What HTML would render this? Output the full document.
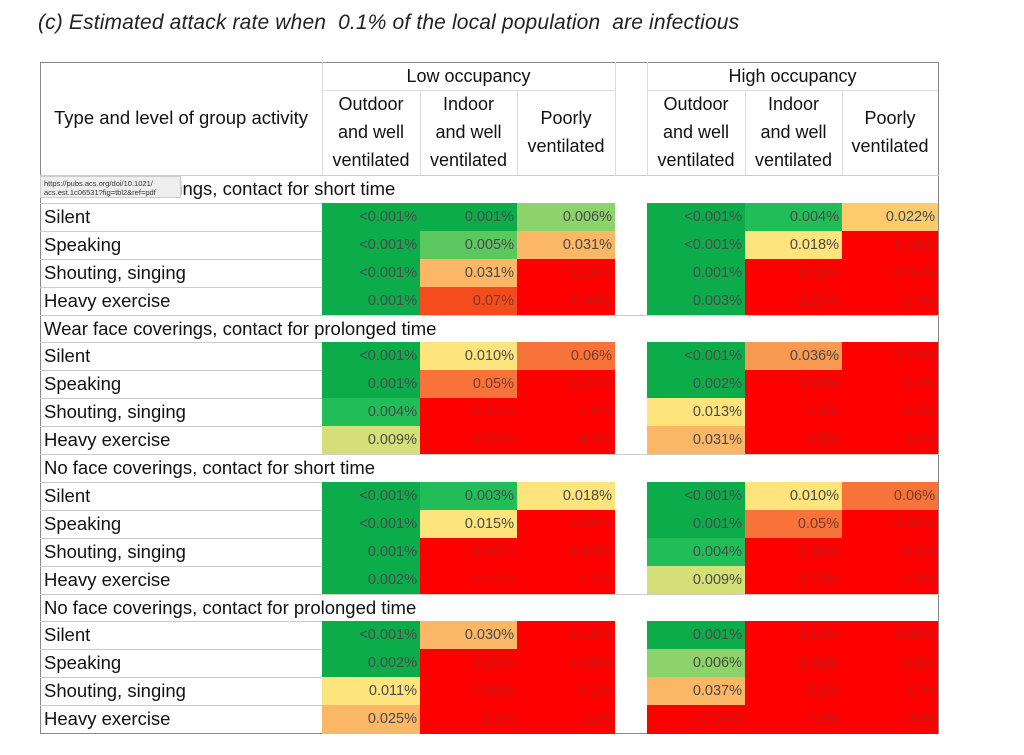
<!DOCTYPE html>
<html><head><meta charset="utf-8">
<style>
body{margin:0;width:1024px;height:755px;background:#fff;position:relative;overflow:hidden;font-family:"Liberation Sans",sans-serif;}
.t{position:absolute;left:38px;top:11px;font-size:21px;font-style:italic;color:#222;white-space:nowrap;letter-spacing:0.15px}
.b{position:absolute;box-sizing:border-box}
.lab{position:absolute;font-size:18.5px;color:#111;white-space:nowrap}
.c{position:absolute;box-sizing:border-box;font-size:14.5px;text-align:right;padding-right:3px;color:#4a4a4a;line-height:28px}
.hd{position:absolute;font-size:18px;color:#111;text-align:center;line-height:28px;white-space:nowrap}
</style></head><body>
<div class="t">(c) Estimated attack rate when &nbsp;0.1% of the local population &nbsp;are infectious</div>
<div id="root"></div>
<script>
const R=document.getElementById('root');
function add(h){R.insertAdjacentHTML('beforeend',h);}
const cx=[322,420,517,647,745,842], cw=[98,97,98,98,97,96];
const col={g1:'#0cac4a',g2:'#20bd58',g3:'#5cc75e',g4:'#8dd36b',y1:'#d4df78',y:'#fde47c',yo:'#fdca6c',o1:'#fbb666',o2:'#f99a52',o3:'#f7733a',o4:'#f44c1c',r:'#fe0000'};
const secs=["Wear face coverings, contact for short time","Wear face coverings, contact for prolonged time","No face coverings, contact for short time","No face coverings, contact for prolonged time"];
const rows=["Silent","Speaking","Shouting, singing","Heavy exercise"];
const D=[
[["g1","<0.001%","g1","0.001%","g4","0.006%","g1","<0.001%","g2","0.004%","yo","0.022%"],
 ["g1","<0.001%","g3","0.005%","o1","0.031%","g1","<0.001%","y","0.018%","r","0.11%"],
 ["g1","<0.001%","o1","0.031%","r","0.19%","g1","0.001%","r","0.11%","r","0.65%"],
 ["g1","0.001%","o4","0.07%","r","0.44%","g1","0.003%","r","0.25%","r","1.5%"]],
[["g1","<0.001%","y","0.010%","o3","0.06%","g1","<0.001%","o2","0.036%","r","0.22%"],
 ["g1","0.001%","o3","0.05%","r","0.31%","g1","0.002%","r","0.18%","r","1.1%"],
 ["g2","0.004%","r","0.31%","r","1.9%","y","0.013%","r","1.1%","r","6.4%"],
 ["y1","0.009%","r","0.73%","r","4.3%","o1","0.031%","r","2.5%","r","14%"]],
[["g1","<0.001%","g2","0.003%","y","0.018%","g1","<0.001%","y","0.010%","o3","0.06%"],
 ["g1","<0.001%","y","0.015%","r","0.09%","g1","0.001%","o3","0.05%","r","0.31%"],
 ["g1","0.001%","r","0.09%","r","0.53%","g2","0.004%","r","0.31%","r","1.9%"],
 ["g1","0.002%","r","0.21%","r","1.2%","y1","0.009%","r","0.73%","r","4.3%"]],
[["g1","<0.001%","o1","0.030%","r","0.18%","g1","0.001%","r","0.10%","r","0.62%"],
 ["g1","0.002%","r","0.15%","r","0.89%","g4","0.006%","r","0.52%","r","3.1%"],
 ["y","0.011%","r","0.89%","r","5.2%","o1","0.037%","r","3.1%","r","17%"],
 ["o1","0.025%","r","2.1%","r","12%","r","0.09%","r","7.0%","r","35%"]]];
add(`<div class="b" style="left:40px;top:62px;width:899px;height:672px;border:1.5px solid #888"></div>`);
add(`<div class="lab" style="left:54px;top:107px">Type and level of group activity</div>`);
add(`<div class="hd" style="left:322px;top:62px;width:293px">Low occupancy</div>`);
add(`<div class="hd" style="left:647px;top:62px;width:291px">High occupancy</div>`);
add(`<div class="b" style="left:322px;top:62px;width:1px;height:113px;background:#ddd"></div>`);
add(`<div class="b" style="left:615px;top:62px;width:1px;height:113px;background:#ddd"></div>`);
add(`<div class="b" style="left:647px;top:62px;width:1px;height:113px;background:#ddd"></div>`);
add(`<div class="b" style="left:322px;top:90px;width:293px;height:1px;background:#ddd"></div>`);
add(`<div class="b" style="left:647px;top:90px;width:291px;height:1px;background:#ddd"></div>`);
const H=[["Outdoor","and well","ventilated"],["Indoor","and well","ventilated"]];
for(let k=0;k<6;k++){
 if(k%3<2){H[k%3].forEach((s,i)=>add(`<div class="hd" style="left:${cx[k]}px;top:${90+i*28}px;width:${cw[k]}px">${s}</div>`));}
 else{add(`<div class="hd" style="left:${cx[k]}px;top:104px;width:${cw[k]}px">Poorly</div><div class="hd" style="left:${cx[k]}px;top:132px;width:${cw[k]}px">ventilated</div>`);}
 if(k%3>0) add(`<div class="b" style="left:${cx[k]}px;top:90px;width:1px;height:85px;background:#ddd"></div>`);
}
const rh=27.9;let y=175;
for(let s=0;s<4;s++){
 add(`<div class="b" style="left:40px;top:${y}px;width:899px;height:1px;background:#ccc"></div>`);
 add(`<div class="lab" style="left:44px;top:${y+3}px">${secs[s]}</div>`);
 y+=rh;
 for(let r=0;r<4;r++){
  add(`<div class="b" style="left:40px;top:${y}px;width:282px;height:1px;background:#ccc"></div>`);
  add(`<div class="lab" style="left:44px;top:${y+3}px">${rows[r]}</div>`);
  const d=D[s][r];
  for(let k=0;k<6;k++){const c=d[2*k],v=d[2*k+1];
   add(`<div class="c" style="left:${cx[k]}px;top:${y}px;width:${cw[k]}px;height:${rh+0.6}px;background:${col[c]};color:${c=='r'?'#c21a1a':(c=='o4'||c=='o3'?'#7a3a2a':'#4a4a4a')}">${v.replace('<','&lt;')}</div>`);}
  y+=rh;
 }
}
add(`<div class="b" style="left:40px;top:176px;width:141px;height:22px;background:#eee;border:1px solid #ccc;font-size:7.5px;color:#333;padding:2px 3px;line-height:9px;font-family:'Liberation Sans',sans-serif">https://pubs.acs.org/doi/10.1021/<br>acs.est.1c06531?fig=tbl2&amp;ref=pdf</div>`);
</script>
</body></html>
